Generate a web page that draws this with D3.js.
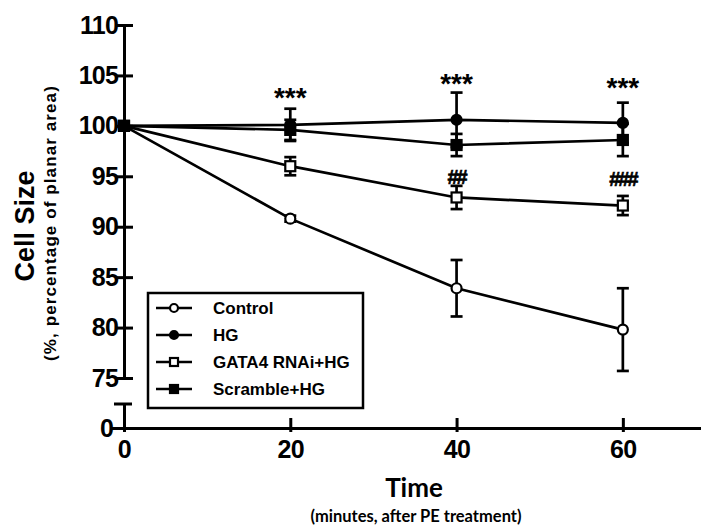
<!DOCTYPE html>
<html><head><meta charset="utf-8">
<script src="https://cdn.jsdelivr.net/npm/d3@7"></script>
<style>body{margin:0;background:#fff}svg{display:block}</style>
</head><body>
<svg id="c" width="701" height="526"></svg>
<script>
const times = [0, 20, 40, 60];
const seriesNames = ["Control", "HG", "GATA4 RNAi+HG", "Scramble+HG"];
const controlMean = [100, 90.8, 83.9, 79.8];
const controlErr = [0, 0.3, 2.8, 4.1];
const hgMean = [100, 100.1, 100.6, 100.3];
const hgErr = [0, 1.6, 2.7, 2.0];
const gataMean = [100, 96.0, 92.9, 92.1];
const gataErr = [0, 0.9, 1.15, 0.95];
const scrambleMean = [100, 99.6, 98.1, 98.6];
const scrambleErr = [0, 1.0, 1.1, 1.6];
const yTicks = [75, 80, 85, 90, 95, 100, 105, 110];
const xTicks = [0, 20, 40, 60];
const starMarks = [{t: 20, v: 103.1, s: "***"}, {t: 40, v: 104.4, s: "***"}, {t: 60, v: 104.1, s: "***"}];
const hashMarks = [{t: 40, v: 95.0, s: "##"}, {t: 60, v: 94.8, s: "###"}];

const svg = d3.select("#c");
const x = d3.scaleLinear().domain([0, 69.4]).range([124, 701]);
const y = d3.scaleLinear().domain([75, 110]).range([378, 25]);
const yLow = d3.scaleLinear().domain([0, 1]).range([428, 404]);
const F = "Arial, 'Liberation Sans', sans-serif";

const series = [
  {name: seriesNames[0], m: controlMean, e: controlErr, shape: "circle", fill: "#fff"},
  {name: seriesNames[1], m: hgMean, e: hgErr, shape: "circle", fill: "#000"},
  {name: seriesNames[2], m: gataMean, e: gataErr, shape: "square", fill: "#fff"},
  {name: seriesNames[3], m: scrambleMean, e: scrambleErr, shape: "square", fill: "#000"}
];

// Axes
const yAx = svg.append("g").attr("transform", "translate(124,0)")
  .call(d3.axisLeft(y).tickValues(yTicks).tickSize(9).tickSizeOuter(0));
yAx.select(".domain").attr("stroke-width", 3);
yAx.selectAll(".tick line").attr("x1", 9).attr("x2", -9).attr("stroke-width", 3);
yAx.selectAll(".tick text").attr("x", -6).attr("font-family", F).attr("font-weight", "bold")
  .attr("font-size", 25).attr("fill", "#000").attr("letter-spacing", -0.8);

const yLowAx = svg.append("g").attr("transform", "translate(124,0)")
  .call(d3.axisLeft(yLow).tickValues([0]).tickFormat(d3.format("d")).tickSize(12).tickSizeOuter(0));
yLowAx.select(".domain").attr("stroke-width", 3);
yLowAx.selectAll(".tick line").attr("stroke-width", 3);
yLowAx.selectAll(".tick text").attr("x", -10).attr("font-family", F).attr("font-weight", "bold")
  .attr("font-size", 25).attr("fill", "#000");
svg.append("line").attr("x1", 114).attr("x2", 132).attr("y1", yLow(1)).attr("y2", yLow(1))
  .attr("stroke", "#000").attr("stroke-width", 3);

const xAx = svg.append("g").attr("transform", "translate(0,428)")
  .call(d3.axisBottom(x).tickValues(xTicks).tickSize(4).tickSizeOuter(0));
xAx.select(".domain").attr("stroke-width", 3);
xAx.selectAll(".tick line").attr("y1", -10).attr("y2", 4).attr("stroke-width", 3);
xAx.selectAll(".tick text").attr("y", 12).attr("font-family", F).attr("font-weight", "bold")
  .attr("font-size", 25).attr("fill", "#000").attr("letter-spacing", -0.5);

// Titles
svg.append("text").attr("transform", "translate(34,226) rotate(-90)").attr("text-anchor", "middle")
  .attr("font-family", F).attr("font-weight", "bold").attr("font-size", 27).text("Cell Size");
svg.append("text").attr("transform", "translate(56,223) rotate(-90)").attr("text-anchor", "middle")
  .attr("font-family", F).attr("font-weight", "bold").attr("font-size", 17).attr("letter-spacing", 1.1)
  .text("(%, percentage of planar area)");
svg.append("text").attr("x", 414).attr("y", 497).attr("text-anchor", "middle")
  .attr("font-family", "Lato, sans-serif").attr("font-weight", "bold").attr("font-size", 26).text("Time");
svg.append("text").attr("x", 416).attr("y", 522).attr("text-anchor", "middle")
  .attr("font-family", "Lato, sans-serif").attr("font-weight", "bold").attr("font-size", 16.5)
  .text("(minutes, after PE treatment)");

// Lines
const line = d3.line().x((d, i) => x(times[i])).y(d => y(d));
series.forEach(s => {
  svg.append("path").attr("d", line(s.m)).attr("fill", "none").attr("stroke", "#000").attr("stroke-width", 2.7);
});
// Error bars
series.forEach(s => {
  const g = svg.append("g").attr("stroke", "#000").attr("stroke-width", 2.7);
  s.m.forEach((v, i) => {
    if (!s.e[i]) return;
    const cx = x(times[i]);
    g.append("line").attr("x1", cx).attr("x2", cx).attr("y1", y(v + s.e[i])).attr("y2", y(v - s.e[i]));
    [v + s.e[i], v - s.e[i]].forEach(w => g.append("line").attr("x1", cx - 6).attr("x2", cx + 6).attr("y1", y(w)).attr("y2", y(w)));
  });
});
// Markers
function marker(g, shape, fill, cx, cy, r) {
  if (shape === "circle") {
    g.append("circle").attr("cx", cx).attr("cy", cy).attr("r", r).attr("fill", fill).attr("stroke", "#000").attr("stroke-width", 2.2);
  } else {
    g.append("rect").attr("x", cx - r).attr("y", cy - r).attr("width", 2 * r).attr("height", 2 * r)
      .attr("fill", fill).attr("stroke", "#000").attr("stroke-width", 2.2);
  }
}
series.forEach(s => {
  const g = svg.append("g");
  s.m.forEach((v, i) => marker(g, s.shape, s.fill, x(times[i]), y(v), 5));
});

// Annotations
starMarks.forEach(a => svg.append("text").attr("x", x(a.t)).attr("y", y(a.v) + 12).attr("text-anchor", "middle")
  .attr("font-family", F).attr("font-weight", "bold").attr("font-size", 28).text(a.s));
hashMarks.forEach(a => svg.append("text").attr("x", x(a.t)).attr("y", y(a.v) + 8).attr("text-anchor", "middle")
  .attr("font-family", F).attr("font-weight", "bold").attr("font-size", 20).attr("letter-spacing", -2)
  .attr("stroke", "#000").attr("stroke-width", 0.6).text(a.s));

// Legend
const lg = svg.append("g");
lg.append("rect").attr("x", 148).attr("y", 293).attr("width", 215).attr("height", 115)
  .attr("fill", "#fff").attr("stroke", "#000").attr("stroke-width", 2.5);
const ly = [308, 335, 362, 389];
series.forEach((s, i) => {
  lg.append("line").attr("x1", 156).attr("x2", 192).attr("y1", ly[i]).attr("y2", ly[i]).attr("stroke", "#000").attr("stroke-width", 2.5);
  marker(lg, s.shape, s.fill, 174, ly[i], 4);
  lg.append("text").attr("x", 213).attr("y", ly[i] + 6).attr("font-family", F).attr("font-weight", "bold")
    .attr("font-size", 17).text(s.name);
});
</script>
</body></html>
